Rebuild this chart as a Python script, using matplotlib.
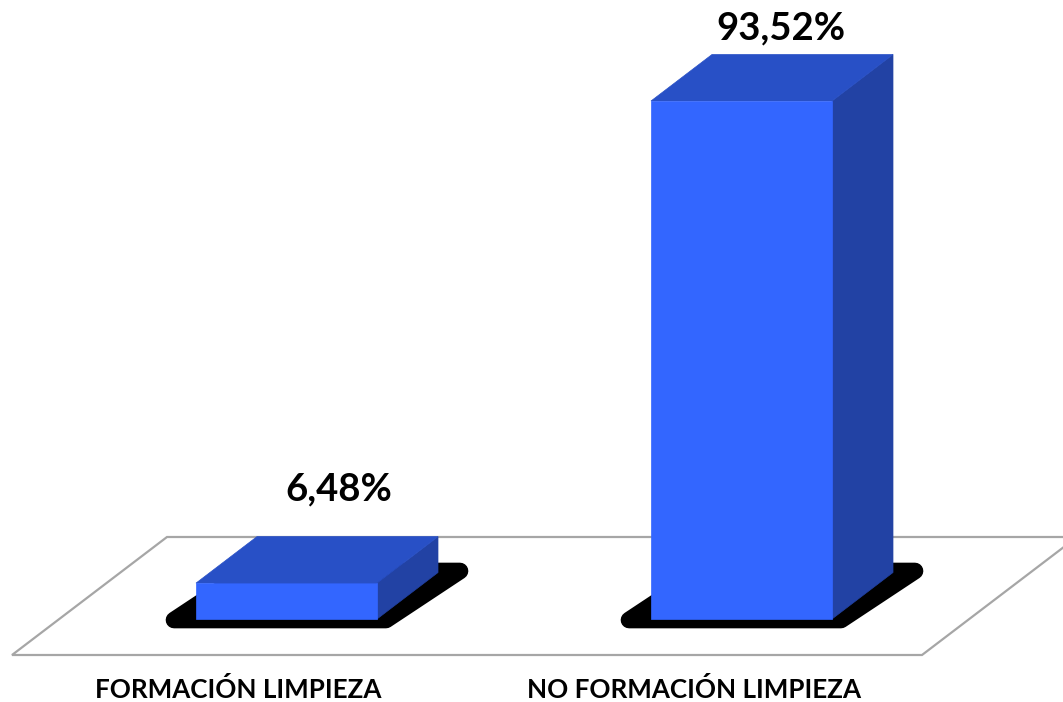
import matplotlib
matplotlib.use("Agg")
import matplotlib.pyplot as plt
from matplotlib.patches import Polygon

# ---- data ----
categories = ["FORMACIÓN LIMPIEZA", "NO FORMACIÓN LIMPIEZA"]
values = [6.48, 93.52]
value_labels = ["6,48%", "93,52%"]

# ---- style / layout ----
FRONT = "#3366FF"
TOP = "#2850C6"
SIDE = "#2242A4"
FLOOR_EDGE = "#A6A6A6"
PX_X = 455.0      # pixels per category unit
PX_Y = 5.539      # pixels per percent
BAR_W = 181 / PX_X
DX = 61 / PX_X
DY = 46.5 / PX_Y

fig = plt.figure(figsize=(10.63, 7.02), dpi=100)
ax = fig.add_axes([0, 0, 1, 1])
ax.set_xlim(-286.5 / PX_X, (1063 - 286.5) / PX_X)
ax.set_ylim(-83 / PX_Y, (702 - 83) / PX_Y)
ax.axis("off")

# floor
fy0 = -36 / PX_Y
fy1 = 82 / PX_Y
floor = Polygon([(-274.5 / PX_X, fy0), (635.5 / PX_X, fy0),
                 (790.5 / PX_X, fy1), (-119.5 / PX_X, fy1)],
                closed=True, facecolor="white", edgecolor=FLOOR_EDGE,
                linewidth=1.6, zorder=1)
ax.add_patch(floor)

label_nudge = [(52.5, 94), (39, 73)]  # pixel offsets of value labels

for i, (cat, v, lab) in enumerate(zip(categories, values, value_labels)):
    x0 = i - BAR_W / 2
    x1 = i + BAR_W / 2
    # shadow (rounded via thick round-joined stroke)
    sy0 = -1 / PX_Y
    sy1 = 48 / PX_Y
    shadow = Polygon([(x0 - 22 / PX_X, sy0), (x0 + 190 / PX_X, sy0),
                      (x0 + 264 / PX_X, sy1), (x0 + 52 / PX_X, sy1)],
                     closed=True, facecolor="black", edgecolor="black",
                     linewidth=12, joinstyle="round", zorder=2)
    ax.add_patch(shadow)
    # side face
    ax.add_patch(Polygon([(x1, 0), (x1 + DX, DY), (x1 + DX, v + DY), (x1, v)],
                         closed=True, facecolor=SIDE, edgecolor=SIDE,
                         linewidth=0.5, zorder=3))
    # top face
    ax.add_patch(Polygon([(x0, v), (x1, v), (x1 + DX, v + DY), (x0 + DX, v + DY)],
                         closed=True, facecolor=TOP, edgecolor=TOP,
                         linewidth=0.5, zorder=3))
    # front face
    ax.add_patch(Polygon([(x0, 0), (x1, 0), (x1, v), (x0, v)],
                         closed=True, facecolor=FRONT, edgecolor=FRONT,
                         linewidth=0.5, zorder=4))
    nx, ny = label_nudge[i]
    ax.text(i + nx / PX_X, v + ny / PX_Y, lab, ha="center", va="center",
            fontsize=27.5, fontweight="bold", family=["Lato", "DejaVu Sans"],
            color="black", zorder=5)
    ax.text(i - 48 / PX_X, -70 / PX_Y, cat, ha="center", va="center",
            fontsize=18.7, fontweight="bold", family=["Lato", "DejaVu Sans"],
            color="black", zorder=5)

fig.savefig("out.png", dpi=100)
